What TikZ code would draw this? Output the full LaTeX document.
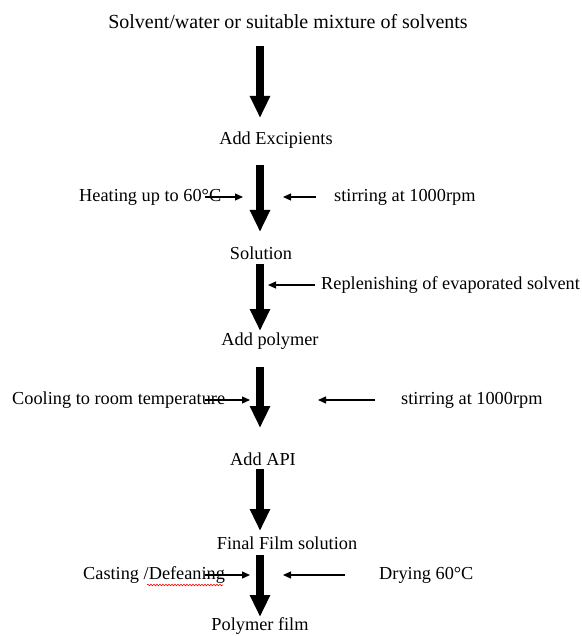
\documentclass[tikz,border=0pt]{standalone}
\usepackage{fontspec}
\setmainfont{Liberation Serif}
\usetikzlibrary{arrows.meta,decorations.pathmorphing}
\begin{document}
\begin{tikzpicture}[x=1pt,y=-1pt,
  lbl/.style={inner sep=0pt,font=\fontsize{18.3}{20}\selectfont},
  bigarrow/.style={line width=8pt,-{Triangle[width=19pt,length=22pt]}},
  smallarrow/.style={line width=1.2pt,-{Triangle[width=7pt,length=8pt]}}]
\useasboundingbox (0,0) rectangle (581,636);
% main labels
\node[lbl,font=\fontsize{20}{22}\selectfont] (t1) at (288,22) {Solvent/water or suitable mixture of solvents};
\node[lbl] (t2) at (276,140) {Add Excipients};
\node[lbl] (t3) at (261,253) {Solution};
\node[lbl] (t4) at (270,341) {Add polymer};
\node[lbl] (t5) at (263,459) {Add API};
\node[lbl] (t6) at (287,543) {Final Film solution};
\node[lbl,anchor=base] (t7) at (260,630) {Polymer film};
% main arrow ends
\coordinate (a1s) at (260,46);  \coordinate (a1e) at (260,118);
\coordinate (a2s) at (260,165); \coordinate (a2e) at (260,232);
\coordinate (a3s) at (260,264); \coordinate (a3e) at (260,331);
\coordinate (a4s) at (260,367); \coordinate (a4e) at (260,428);
\coordinate (a5s) at (260,469); \coordinate (a5e) at (260,531);
\coordinate (a6s) at (260,555); \coordinate (a6e) at (260,617);
\draw[bigarrow] (a1s) -- (a1e);
\draw[bigarrow] (a2s) -- (a2e);
\draw[bigarrow] (a3s) -- (a3e);
\draw[bigarrow] (a4s) -- (a4e);
\draw[bigarrow] (a5s) -- (a5e);
\draw[bigarrow] (a6s) -- (a6e);
% side labels
\node[lbl,anchor=west] (h1) at (79,197) {Heating up to 60°C};
\node[lbl,anchor=west] (s1) at (334,197) {stirring at 1000rpm};
\node[lbl,anchor=west] (r1) at (321,285) {Replenishing of evaporated solvent};
\node[lbl,anchor=west] (c1) at (12,400) {Cooling to room temperature};
\node[lbl,anchor=west] (s2) at (401,400) {stirring at 1000rpm};
\node[lbl,anchor=west] (d1) at (83,575) {Casting /Defeaning};
\node[lbl,anchor=west] (d2) at (379,575) {Drying 60°C};
% side arrow ends
\coordinate (h1e) at (243,197); \coordinate (s1e) at (283,197);
\coordinate (r1e) at (268,285);
\coordinate (c1e) at (250,400); \coordinate (s2e) at (318,400);
\coordinate (d1e) at (250,575); \coordinate (d2e) at (283,575);
\coordinate (s1s) at (316,197); \coordinate (r1s) at (315,285);
\coordinate (s2s) at (375,400); \coordinate (d2s) at (345,575);
\draw[smallarrow] (205,197) -- (h1e);
\draw[smallarrow] (s1s) -- (s1e);
\draw[smallarrow] (r1s) -- (r1e);
\draw[smallarrow] (205,400) -- (c1e);
\draw[smallarrow] (s2s) -- (s2e);
\draw[smallarrow] (205,575) -- (d1e);
\draw[smallarrow] (d2s) -- (d2e);
% red wavy underline
\draw[red,line width=0.6pt,decorate,decoration={snake,amplitude=0.8pt,segment length=3pt}]
  (147,585) -- (223,585);
\end{tikzpicture}
\end{document}
